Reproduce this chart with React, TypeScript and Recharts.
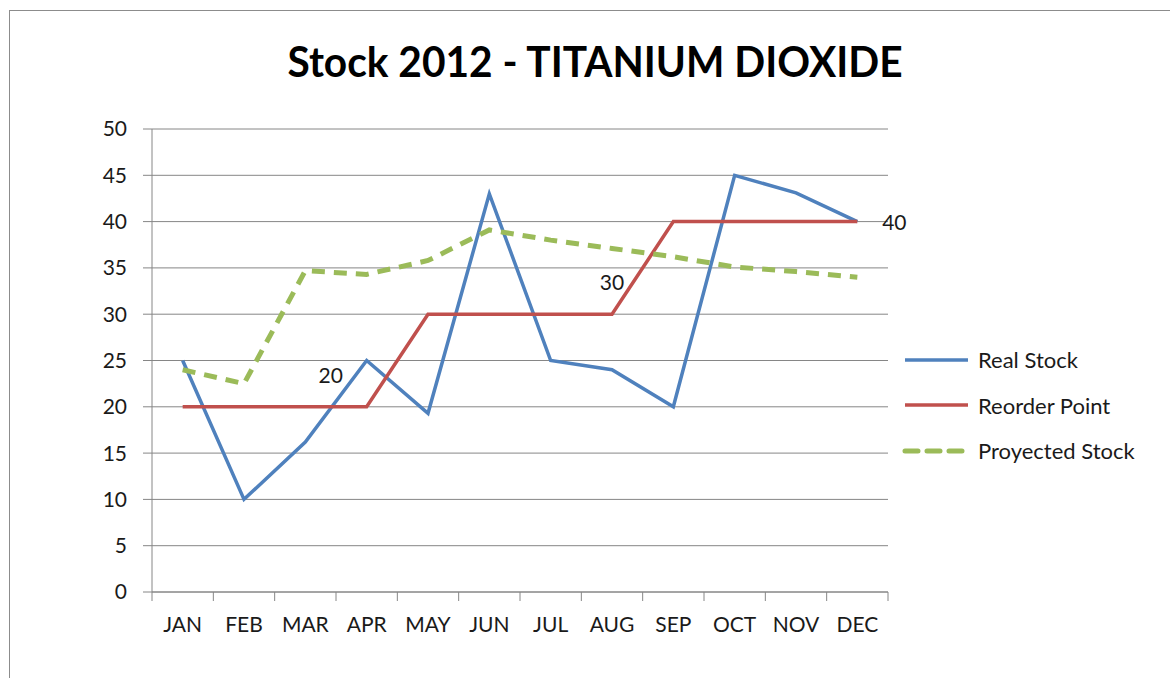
import React from "react";
import { LineChart, Line, XAxis, YAxis, CartesianGrid, Legend, LabelList } from "recharts";

const months = ["JAN", "FEB", "MAR", "APR", "MAY", "JUN", "JUL", "AUG", "SEP", "OCT", "NOV", "DEC"];
const realStock = [25, 10, 16.2, 25, 19.3, 43, 25, 24, 20, 45, 43.1, 40];
const reorderPoint = [20, 20, 20, 20, 30, 30, 30, 30, 40, 40, 40, 40];
const projectedStock = [24, 22.5, 34.7, 34.3, 35.8, 39.1, 38, 37.1, 36.2, 35.1, 34.6, 34];
const seriesNames = ["Real Stock", "Reorder Point", "Proyected Stock"];
const yTicks = [0, 5, 10, 15, 20, 25, 30, 35, 40, 45, 50];
const xTicks = [0, 1, 2, 3, 4, 5, 6, 7, 8, 9, 10, 11, 12];

// reorder point values that get a data label, with their offsets from the point
const labelOffsets: Record<number, [number, number]> = {
  3: [-36, -31],
  7: [0, -32],
  11: [37, 1],
};

const data = months.map((m, i) => ({
  pos: i + 0.5,
  month: m,
  real: realStock[i],
  reorder: reorderPoint[i],
  projected: projectedStock[i],
}));

const FONT = "Lato, 'Open Sans', sans-serif";
const GRID = "#868686";
const TEXT = "#1a1a1a";
const W = 1170;
const H = 678;
const margin = { top: 129, right: 282, bottom: 46, left: 112 };
const halfCat = (W - margin.left - margin.right - 40) / 24;

const MonthTick = (props: any) => {
  const { x, y, payload } = props;
  const i = payload.value;
  if (i >= months.length) return null;
  return (
    <text x={x + halfCat} y={y} dy="0.71em" textAnchor="middle" fontSize={21} fill={TEXT} fontFamily={FONT}>
      {months[i]}
    </text>
  );
};

const ValueLabel = (props: any) => {
  const { x, y, value, index } = props;
  const off = labelOffsets[index];
  if (!off) return null;
  return (
    <text x={x + off[0]} y={y + off[1]} dy="0.36em" textAnchor="middle" fontSize={21} fill={TEXT} fontFamily={FONT}>
      {value}
    </text>
  );
};

const renderLegend = (props: any) => {
  const items = [...props.payload].sort(
    (a: any, b: any) => seriesNames.indexOf(a.value) - seriesNames.indexOf(b.value)
  );
  return (
    <div>
      {items.map((item: any) => (
        <div key={item.value} style={{ display: "flex", alignItems: "center", height: 45.5 }}>
          <svg width={78} height={10}>
            <line
              x1={5}
              y1={5}
              x2={68}
              y2={5}
              stroke={item.color}
              strokeWidth={item.payload.strokeWidth}
              strokeDasharray={item.payload.strokeDasharray}
              strokeLinecap={item.payload.strokeDasharray ? "round" : "butt"}
            />
          </svg>
          <span style={{ fontFamily: FONT, fontSize: 22, color: TEXT }}>{item.value}</span>
        </div>
      ))}
    </div>
  );
};

export default function App() {
  return (
    <div style={{ position: "absolute", left: 0, top: 0, width: W, height: H, overflow: "hidden", background: "#fff" }}>
      <div
        style={{
          position: "absolute",
          left: 9,
          top: 10,
          width: 1300,
          height: 800,
          border: "1px solid #8c8c8c",
          boxSizing: "border-box",
        }}
      />
      <svg style={{ position: "absolute", left: 0, top: 0 }} width={W} height={110}>
        <text
          x={595}
          y={77}
          textAnchor="middle"
          fontFamily={FONT}
          fontWeight={700}
          fontSize={42}
          fill="#000"
          textLength={615}
          lengthAdjust="spacingAndGlyphs"
        >
          Stock 2012 - TITANIUM DIOXIDE
        </text>
      </svg>
      <div style={{ position: "absolute", left: 0, top: 0 }}>
        <LineChart width={W} height={H} data={data} margin={margin}>
          <CartesianGrid vertical={false} stroke={GRID} strokeWidth={1} />
          <XAxis
            dataKey="pos"
            type="number"
            domain={[0, 12]}
            ticks={xTicks}
            interval={0}
            tick={<MonthTick />}
            tickLine={{ stroke: GRID }}
            axisLine={{ stroke: GRID }}
            tickSize={9}
            tickMargin={16}
            height={40}
          />
          <YAxis
            type="number"
            domain={[0, 50]}
            ticks={yTicks}
            interval={0}
            tick={{ fontSize: 21, fill: TEXT, fontFamily: FONT }}
            tickLine={{ stroke: GRID }}
            axisLine={{ stroke: GRID }}
            tickSize={9}
            tickMargin={16}
            width={40}
          />
          <Line
            dataKey="real"
            name="Real Stock"
            stroke="#4F81BD"
            strokeWidth={3.5}
            dot={false}
            activeDot={false}
            isAnimationActive={false}
          />
          <Line
            dataKey="reorder"
            name="Reorder Point"
            stroke="#C0504D"
            strokeWidth={3.5}
            dot={false}
            activeDot={false}
            isAnimationActive={false}
          >
            <LabelList dataKey="reorder" content={<ValueLabel />} />
          </Line>
          <Line
            dataKey="projected"
            name="Proyected Stock"
            stroke="#9BBB59"
            strokeWidth={5}
            strokeDasharray="13 9"
            dot={false}
            activeDot={false}
            isAnimationActive={false}
          />
          <Legend
            layout="vertical"
            align="center"
            verticalAlign="middle"
            wrapperStyle={{ left: 900, top: 337, width: 268 }}
            content={renderLegend}
          />
        </LineChart>
      </div>
    </div>
  );
}
